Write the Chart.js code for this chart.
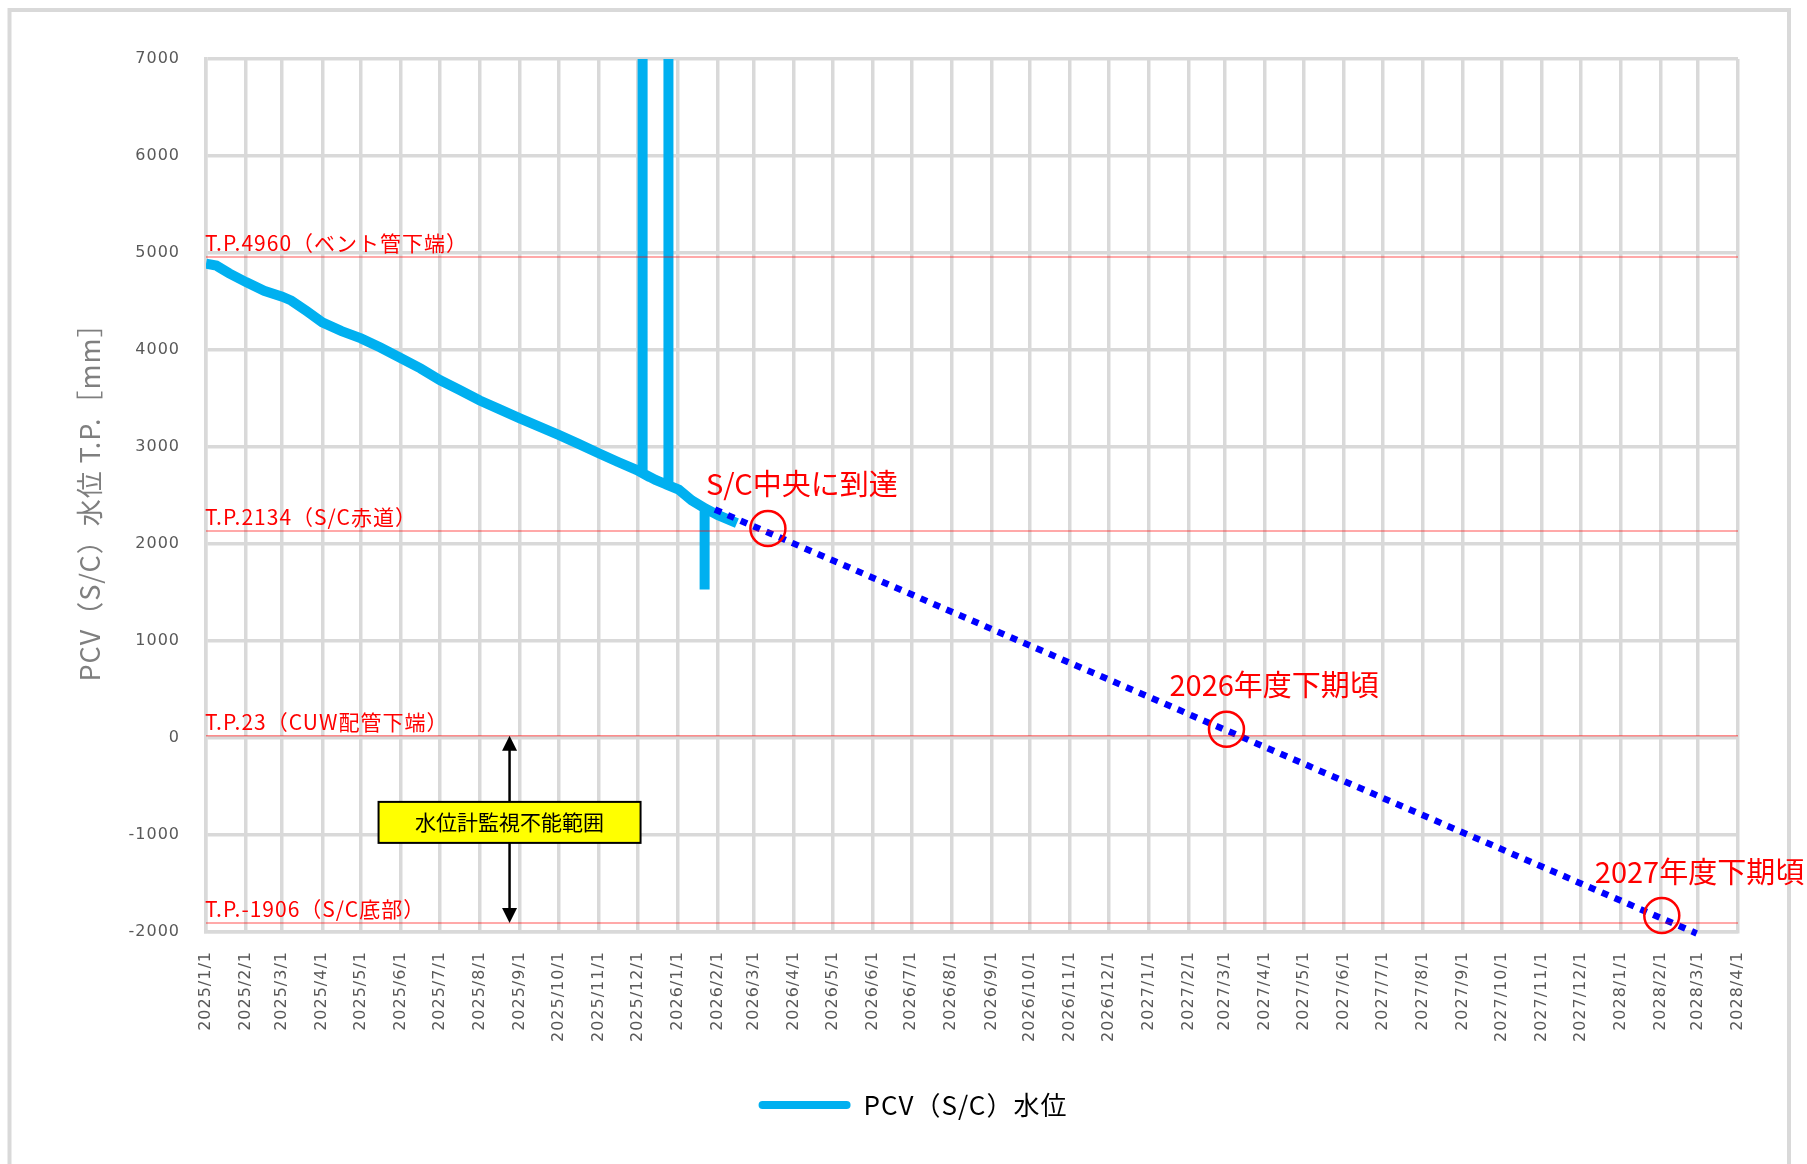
<!DOCTYPE html>
<html lang="ja">
<head>
<meta charset="utf-8">
<script src="https://cdn.jsdelivr.net/npm/chart.js@4.4.1/dist/chart.umd.min.js"></script>
<style>
  html, body { margin: 0; padding: 0; background: #fff; }
  #wrap { width: 1807px; height: 1164px; position: relative; }
</style>
</head>
<body>
<div id="wrap"><canvas id="myChart"></canvas></div>
<script>
// 横軸の目盛り（月初）
const monthLabels = [
    '2025/1/1', '2025/2/1', '2025/3/1', '2025/4/1', '2025/5/1', '2025/6/1', '2025/7/1', '2025/8/1',
    '2025/9/1', '2025/10/1', '2025/11/1', '2025/12/1', '2026/1/1', '2026/2/1', '2026/3/1', '2026/4/1',
    '2026/5/1', '2026/6/1', '2026/7/1', '2026/8/1', '2026/9/1', '2026/10/1', '2026/11/1', '2026/12/1',
    '2027/1/1', '2027/2/1', '2027/3/1', '2027/4/1', '2027/5/1', '2027/6/1', '2027/7/1', '2027/8/1',
    '2027/9/1', '2027/10/1', '2027/11/1', '2027/12/1', '2028/1/1', '2028/2/1', '2028/3/1', '2028/4/1'
];

// 縦軸
const yMin = -2000;
const yMax = 7000;
const yStep = 1000;
const yTitle = 'PCV（S/C）水位 T.P.［mm］';

// PCV（S/C）水位 実績（同じ日付が続く所はスパイク）
const seriesName = 'PCV（S/C）水位';
const levelDates = [
    '2025/1/1', '2025/1/9', '2025/1/19', '2025/2/1', '2025/2/15', '2025/3/1', '2025/3/8', '2025/3/20',
    '2025/4/1', '2025/4/16', '2025/5/1', '2025/5/16', '2025/6/1', '2025/6/16', '2025/7/1', '2025/7/16',
    '2025/8/1', '2025/8/16', '2025/9/1', '2025/9/16', '2025/10/1', '2025/10/16', '2025/11/1', '2025/11/16',
    '2025/12/1', '2025/12/5', '2025/12/5', '2025/12/5', '2025/12/15', '2025/12/25', '2025/12/25', '2025/12/25',
    '2026/1/2', '2026/1/12', '2026/1/22', '2026/1/22', '2026/1/22', '2026/2/1', '2026/2/16'
];
const levelValues = [
    4890, 4870, 4790, 4700, 4610, 4550, 4510, 4400,
    4285, 4195, 4120, 4025, 3915, 3810, 3690, 3590,
    3480, 3390, 3295, 3210, 3125, 3035, 2935, 2845,
    2760, 2730, 8000, 2730, 2660, 2605, 8000, 2605,
    2560, 2450, 2370, 1530, 2370, 2300, 2215
];

// 予測（点線）
const forecastDates = ['2026/1/30', '2028/2/29'];
const forecastValues = [2355, -2015];

// 基準高さ
const refValues = [4960, 2134, 23, -1906];
const refLabels = ['T.P.4960（ベント管下端）', 'T.P.2134（S/C赤道）', 'T.P.23（CUW配管下端）', 'T.P.-1906（S/C底部）'];

// 到達時期の注記
const noteDates = ['2026/3/12', '2027/3/2', '2028/2/2'];
const noteValues = [2160, 90, -1830];
const noteTexts = ['S/C中央に到達', '2026年度下期頃', '2027年度下期頃'];
const noteShift = [-62, -57, -67];   // 丸の中心から文字の左端まで(px)

// 水位計監視不能範囲
const blindDate = '2025/8/24';
const blindTop = 23;
const blindBottom = -1906;
const blindLabelValue = -870;
const blindLabel = '水位計監視不能範囲';

const JP = '"Noto Sans CJK JP", "Noto Sans", sans-serif';
const NUM = '"DejaVu Sans", sans-serif';

// 2025/1/1 からの日数
function dayOf(s) {
    const p = s.split('/').map(Number);
    return (Date.UTC(p[0], p[1] - 1, p[2]) - Date.UTC(2025, 0, 1)) / 86400000;
}

const tickDays = monthLabels.map(dayOf);
const xMax = tickDays[tickDays.length - 1];

const datasets = [];
refValues.forEach(v => {
    datasets.push({
        label: 'ref',
        data: [{ x: 0, y: v }, { x: xMax, y: v }],
        borderColor: 'rgba(255, 0, 0, 0.45)',
        borderWidth: 1.5,
        pointRadius: 0,
        order: 0
    });
});
datasets.push({
    label: 'forecast',
    data: forecastDates.map((d, i) => ({ x: dayOf(d), y: forecastValues[i] })),
    borderColor: '#0000FF',
    borderWidth: 6.5,
    borderDash: [7, 7],
    borderCapStyle: 'butt',
    pointRadius: 0,
    order: 1,
    clip: false
});
datasets.push({
    label: seriesName,
    data: levelDates.map((d, i) => ({ x: dayOf(d), y: levelValues[i] })),
    borderColor: '#00B0F0',
    backgroundColor: '#00B0F0',
    borderWidth: 10,
    pointRadius: 0,
    order: 2,
    clip: 0
});

// 枠と注記
const notePlugin = {
    id: 'notes',
    beforeDraw(chart) {
        const ctx = chart.ctx;
        ctx.save();
        ctx.fillStyle = '#fff';
        ctx.fillRect(0, 0, chart.width, chart.height);
        ctx.strokeStyle = '#D9D9D9';
        ctx.lineWidth = 4;
        ctx.strokeRect(9.5, 10, 1779.5, chart.height + 40);
        ctx.restore();
        // 元の図の文字は字間が広いので少し空ける
        ctx.letterSpacing = '1px';
    },
    afterDatasetsDraw(chart) {
        const { ctx, scales: { x, y } } = chart;
        ctx.save();

        // 基準高さのラベル
        ctx.font = '21px ' + JP;
        ctx.fillStyle = '#FF0000';
        ctx.textAlign = 'left';
        ctx.textBaseline = 'alphabetic';
        refValues.forEach((v, i) => {
            ctx.fillText(refLabels[i], x.left - 1, y.getPixelForValue(v) - 6);
        });

        // 丸と注記
        ctx.letterSpacing = '0px';
        ctx.strokeStyle = '#FF0000';
        ctx.lineWidth = 2.5;
        ctx.font = '29px ' + JP;
        noteDates.forEach((d, i) => {
            const cx = x.getPixelForValue(dayOf(d));
            const cy = y.getPixelForValue(noteValues[i]);
            ctx.beginPath();
            ctx.arc(cx, cy, 17.5, 0, Math.PI * 2);
            ctx.stroke();
            ctx.fillText(noteTexts[i], cx + noteShift[i], cy - 33);
        });

        // 矢印
        const ax = x.getPixelForValue(dayOf(blindDate));
        const yTop = y.getPixelForValue(blindTop);
        const yBot = y.getPixelForValue(blindBottom);
        ctx.strokeStyle = '#000';
        ctx.fillStyle = '#000';
        ctx.lineWidth = 2.5;
        ctx.beginPath();
        ctx.moveTo(ax, yTop + 12);
        ctx.lineTo(ax, yBot - 12);
        ctx.stroke();
        ctx.beginPath();
        ctx.moveTo(ax, yTop);
        ctx.lineTo(ax - 7.5, yTop + 15);
        ctx.lineTo(ax + 7.5, yTop + 15);
        ctx.closePath();
        ctx.fill();
        ctx.beginPath();
        ctx.moveTo(ax, yBot);
        ctx.lineTo(ax - 7.5, yBot - 15);
        ctx.lineTo(ax + 7.5, yBot - 15);
        ctx.closePath();
        ctx.fill();

        // 黄色の枠
        const by = y.getPixelForValue(blindLabelValue);
        ctx.fillStyle = '#FFFF00';
        ctx.fillRect(ax - 131, by - 20.5, 262, 41);
        ctx.lineWidth = 2;
        ctx.strokeRect(ax - 131, by - 20.5, 262, 41);
        ctx.fillStyle = '#000';
        ctx.font = '21px ' + JP;
        ctx.textAlign = 'center';
        ctx.textBaseline = 'middle';
        ctx.fillText(blindLabel, ax, by);

        ctx.restore();
    }
};

const ctx = document.getElementById('myChart').getContext('2d');
const chart = new Chart(ctx, {
    type: 'line',
    data: { datasets: datasets },
    options: {
        responsive: true,
        maintainAspectRatio: false,
        animation: false,
        layout: { padding: { left: 78, right: 69, top: 59, bottom: 36 } },
        plugins: {
            tooltip: { enabled: false },
            legend: {
                position: 'bottom',
                labels: {
                    generateLabels: () => [{
                        text: seriesName,
                        fillStyle: '#00B0F0',
                        strokeStyle: '#00B0F0',
                        lineWidth: 0,
                        borderRadius: 4,
                        datasetIndex: datasets.length - 1
                    }],
                    boxWidth: 92,
                    boxHeight: 8,
                    useBorderRadius: true,
                    color: '#595959',
                    font: { family: JP, size: 26 },
                    padding: 10
                }
            }
        },
        scales: {
            x: {
                type: 'linear',
                min: 0,
                max: xMax,
                afterBuildTicks: s => { s.ticks = tickDays.map(v => ({ value: v })); },
                afterFit: s => { s.height = 150; },
                ticks: {
                    autoSkip: false,
                    minRotation: 90,
                    maxRotation: 90,
                    padding: 19,
                    color: '#595959',
                    font: { family: NUM, size: 16 },
                    callback: (v, i) => monthLabels[i]
                },
                grid: { color: '#D9D9D9', lineWidth: 3.5, drawTicks: false },
                border: { color: '#D9D9D9', width: 3.5 }
            },
            y: {
                min: yMin,
                max: yMax,
                afterFit: s => { s.width = 128; },
                ticks: {
                    stepSize: yStep,
                    padding: 26,
                    color: '#595959',
                    font: { family: NUM, size: 16 },
                    callback: v => String(v)
                },
                grid: { color: '#D9D9D9', lineWidth: 3.5, drawTicks: false },
                border: { color: '#D9D9D9', width: 3.5 },
                title: {
                    display: true,
                    text: yTitle,
                    color: '#7F7F7F',
                    font: { family: JP, size: 27 },
                    padding: { top: -4, bottom: 0 }
                }
            }
        }
    },
    plugins: [notePlugin]
});
</script>
</body>
</html>
